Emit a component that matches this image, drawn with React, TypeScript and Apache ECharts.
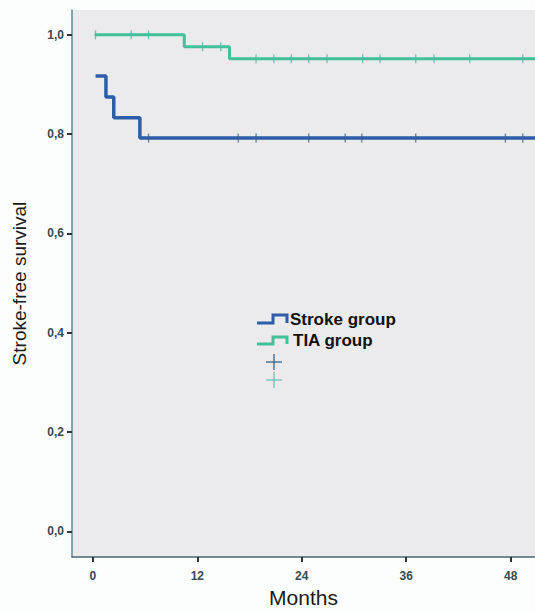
import React, { useEffect, useRef } from "react";
import * as echarts from "echarts";

const xTicks = [0, 12, 24, 36, 48];
const yTicks = [0, 0.2, 0.4, 0.6, 0.8, 1.0];

// Kaplan-Meier steps [month, survival]
const strokeSteps: [number, number][] = [
  [0.3, 0.917],
  [1.5, 0.875],
  [2.4, 0.833],
  [5.4, 0.792],
  [50.8, 0.792],
];
const tiaSteps: [number, number][] = [
  [0.2, 1.0],
  [10.5, 0.976],
  [15.7, 0.952],
  [50.8, 0.952],
];
// censored observations [month, survival]
const strokeCensored: [number, number][] = [
  [6.4, 0.792], [16.7, 0.792], [18.75, 0.792], [24.8, 0.792], [29.0, 0.792],
  [30.9, 0.792], [37.1, 0.792], [47.4, 0.792], [49.4, 0.792],
];
const tiaCensored: [number, number][] = [
  [0.3, 1.0], [4.4, 1.0], [6.4, 1.0], [12.6, 0.976], [14.7, 0.976],
  [18.75, 0.952], [20.8, 0.952], [22.8, 0.952], [24.8, 0.952], [26.9, 0.952],
  [31.0, 0.952], [33.0, 0.952], [37.1, 0.952], [39.2, 0.952], [43.3, 0.952],
  [49.4, 0.952],
];

const BLUE = "#2c5ea8";
const GREEN = "#42c09c";
const AXIS = "#4c6470";
const FONT = "Liberation Sans, Arial, sans-serif";

export default function App() {
  const ref = useRef<HTMLDivElement>(null);
  useEffect(() => {
    document.body.style.margin = "0";
    document.body.style.background = "#fcfdfd";
    const chart = echarts.init(ref.current!, null, { renderer: "svg" });
    const option: any = {
      animation: false,
      backgroundColor: "#fcfdfd",
      grid: {
        left: 72,
        top: 10,
        right: 0,
        bottom: 50,
        show: true,
        backgroundColor: "#ebebed",
        borderWidth: 0,
      },
      xAxis: {
        type: "value",
        min: -2.4,
        max: 50.8,
        name: "Months",
        nameLocation: "middle",
        nameGap: 29,
        nameTextStyle: { fontFamily: FONT, fontSize: 21, color: "#1a1a1a", verticalAlign: "top" },
        axisLine: { show: true, onZero: false, lineStyle: { color: AXIS, width: 1.5 } },
        axisTick: {
          show: true,
          customValues: xTicks,
          length: 5,
          lineStyle: { color: "#333", width: 2 },
        },
        axisLabel: {
          customValues: xTicks,
          fontFamily: FONT,
          fontSize: 12,
          fontWeight: "bold",
          color: "#3a4a52",
          margin: 13,
        },
        splitLine: { show: false },
      },
      yAxis: {
        type: "value",
        min: -0.052,
        max: 1.05,
        name: "Stroke-free survival",
        nameLocation: "middle",
        nameGap: 43,
        nameTextStyle: { fontFamily: FONT, fontSize: 19, color: "#1a1a1a" },
        axisLine: { show: true, onZero: false, lineStyle: { color: "#5a8a98", width: 1.5 } },
        axisTick: {
          show: true,
          customValues: yTicks,
          length: 5,
          lineStyle: { color: "#333", width: 2 },
        },
        axisLabel: {
          customValues: yTicks,
          fontFamily: FONT,
          fontSize: 12,
          fontWeight: "bold",
          color: "#3a4a52",
          margin: 8,
          formatter: (v: number) => v.toFixed(1).replace(".", ","),
        },
        splitLine: { show: false },
      },
      series: [
        {
          type: "line",
          step: "end",
          data: tiaSteps,
          symbol: "none",
          lineStyle: { color: GREEN, width: 3 },
          z: 2,
        },
        {
          type: "line",
          step: "end",
          data: strokeSteps,
          symbol: "none",
          lineStyle: { color: BLUE, width: 3.5 },
          z: 3,
        },
        {
          type: "scatter",
          data: tiaCensored,
          symbol: "rect",
          symbolSize: [1.3, 9],
          itemStyle: { color: "#4fb8a0" },
          z: 4,
        },
        {
          type: "scatter",
          data: strokeCensored,
          symbol: "rect",
          symbolSize: [1.3, 9],
          itemStyle: { color: "#3b5f86" },
          z: 4,
        },
      ],
      graphic: [
        {
          type: "polyline",
          shape: { points: [[257, 323], [273, 323], [273, 315], [287, 315], [287, 323]] },
          style: { stroke: BLUE, lineWidth: 3, fill: "none" },
        },
        {
          type: "text",
          x: 290,
          y: 319,
          style: { text: "Stroke group", font: `bold 17px ${FONT}`, fill: "#111", verticalAlign: "middle" },
        },
        {
          type: "polyline",
          shape: { points: [[257, 344], [273, 344], [273, 337], [287, 337], [287, 344]] },
          style: { stroke: GREEN, lineWidth: 3, fill: "none" },
        },
        {
          type: "text",
          x: 293,
          y: 340,
          style: { text: "TIA group", font: `bold 17px ${FONT}`, fill: "#111", verticalAlign: "middle" },
        },
        { type: "line", shape: { x1: 266, y1: 362, x2: 282, y2: 362 }, style: { stroke: "#3b5f86", lineWidth: 1.3 } },
        { type: "line", shape: { x1: 274, y1: 354, x2: 274, y2: 370 }, style: { stroke: "#3b5f86", lineWidth: 1.3 } },
        { type: "line", shape: { x1: 266, y1: 380, x2: 282, y2: 380 }, style: { stroke: "#6cc3b0", lineWidth: 1.3 } },
        { type: "line", shape: { x1: 274, y1: 372, x2: 274, y2: 388 }, style: { stroke: "#6cc3b0", lineWidth: 1.3 } },
      ],
    };
    chart.setOption(option);
    return () => chart.dispose();
  }, []);
  return <div ref={ref} style={{ width: 535, height: 613 }} />;
}
